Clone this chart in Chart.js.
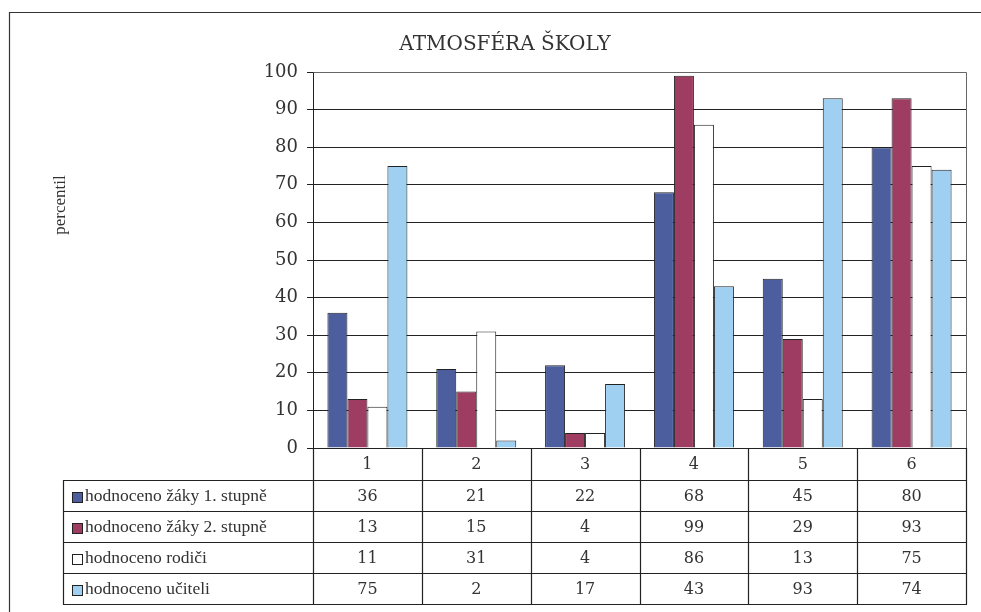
<!DOCTYPE html>
<html>
<head>
<meta charset="utf-8">
<script src="https://cdn.jsdelivr.net/npm/chart.js@4.4.1/dist/chart.umd.min.js"></script>
<style>
  html, body { margin: 0; padding: 0; background: #fff; }
  #wrap { width: 981px; height: 612px; position: relative; }
</style>
</head>
<body>
<div id="wrap"><canvas id="c"></canvas></div>
<script>
const chartTitle = 'ATMOSFÉRA ŠKOLY';
const yAxisTitle = 'percentil';
const categories = ['1', '2', '3', '4', '5', '6'];
const seriesNames = ['hodnoceno žáky 1. stupně', 'hodnoceno žáky 2. stupně', 'hodnoceno rodiči', 'hodnoceno učiteli'];
const zaky1 = [36, 21, 22, 68, 45, 80];
const zaky2 = [13, 15, 4, 99, 29, 93];
const rodici = [11, 31, 4, 86, 13, 75];
const ucitele = [75, 2, 17, 43, 93, 74];
const seriesColors = ['#4c5e9e', '#9e3c62', '#ffffff', '#9fd0f2'];
const yMin = 0, yMax = 100, yStep = 10;

const SERIF = "'Liberation Serif', serif";
const WIDE = "'DejaVu Serif', serif";
const seriesValues = [zaky1, zaky2, rodici, ucitele];

const tablePlugin = {
  id: 'tablePlugin',
  beforeDraw(chart) {
    const ctx = chart.ctx;
    ctx.save();
    ctx.fillStyle = '#fff';
    ctx.fillRect(0, 0, chart.width, chart.height);
    ctx.strokeStyle = '#333';
    ctx.lineWidth = 1.2;
    ctx.beginPath();
    ctx.moveTo(9.5, chart.height);
    ctx.lineTo(9.5, 12.5);
    ctx.lineTo(chart.width, 12.5);
    ctx.stroke();
    ctx.restore();
  },
  afterDraw(chart) {
    const ctx = chart.ctx;
    const { left, right, top, bottom } = chart.chartArea;
    const x = chart.scales.x;
    ctx.save();
    ctx.strokeStyle = '#666';
    ctx.lineWidth = 1;
    ctx.beginPath();
    ctx.moveTo(Math.round(left) + 0.5, Math.round(top) + 0.5);
    ctx.lineTo(Math.round(right) + 0.5, Math.round(top) + 0.5);
    ctx.lineTo(Math.round(right) + 0.5, Math.round(bottom) + 0.5);
    ctx.stroke();

    const bounds = [left];
    for (let i = 0; i < categories.length - 1; i++) {
      bounds.push((x.getPixelForValue(i) + x.getPixelForValue(i + 1)) / 2);
    }
    bounds.push(right);

    const headerBottom = 480;
    const rowH = 31;
    const tableLeft = 63;
    const rowsY = [headerBottom];
    for (let r = 0; r < seriesNames.length; r++) rowsY.push(headerBottom + rowH * (r + 1));
    const tableBottom = rowsY[rowsY.length - 1];

    ctx.strokeStyle = '#222';
    ctx.lineWidth = 1.2;
    ctx.beginPath();
    bounds.forEach(b => {
      const bx = Math.round(b) + 0.5;
      ctx.moveTo(bx, Math.round(bottom));
      ctx.lineTo(bx, tableBottom + 0.5);
    });
    ctx.moveTo(tableLeft + 0.5, headerBottom + 0.5);
    ctx.lineTo(tableLeft + 0.5, tableBottom + 0.5);
    rowsY.forEach(ry => {
      ctx.moveTo(tableLeft, ry + 0.5);
      ctx.lineTo(Math.round(right) + 1, ry + 0.5);
    });
    ctx.stroke();

    ctx.fillStyle = '#333';
    ctx.font = '16px ' + WIDE;
    ctx.textAlign = 'center';
    ctx.textBaseline = 'middle';
    categories.forEach((c, i) => {
      ctx.fillText(c, x.getPixelForValue(i), (bottom + headerBottom) / 2 + 1);
    });

    seriesNames.forEach((name, r) => {
      const cy = headerBottom + rowH * r + rowH / 2 + 1;
      ctx.fillStyle = seriesColors[r];
      ctx.fillRect(72, Math.round(cy - 5), 10, 10);
      ctx.strokeStyle = '#222';
      ctx.lineWidth = 1;
      ctx.strokeRect(72.5, Math.round(cy - 5) + 0.5, 10, 10);
      ctx.fillStyle = '#333';
      ctx.textAlign = 'left';
      ctx.font = '17.5px ' + SERIF;
      ctx.fillText(name, 85, cy);
      ctx.textAlign = 'center';
      ctx.font = '16px ' + WIDE;
      seriesValues[r].forEach((v, i) => {
        ctx.fillText(String(v), x.getPixelForValue(i), cy);
      });
    });

    ctx.save();
    ctx.translate(61, 205);
    ctx.rotate(-Math.PI / 2);
    ctx.font = '17px ' + SERIF;
    ctx.fillStyle = '#333';
    ctx.textAlign = 'center';
    ctx.textBaseline = 'middle';
    ctx.fillText(yAxisTitle, 0, 0);
    ctx.restore();

    ctx.restore();
  }
};

new Chart(document.getElementById('c'), {
  type: 'bar',
  data: {
    labels: categories,
    datasets: seriesNames.map((n, i) => ({
      label: n,
      data: seriesValues[i],
      backgroundColor: seriesColors[i],
      borderColor: '#222',
      borderWidth: 1,
      borderSkipped: 'bottom',
      categoryPercentage: 0.735,
      barPercentage: 1.0
    }))
  },
  options: {
    responsive: true,
    maintainAspectRatio: false,
    animation: false,
    devicePixelRatio: 1,
    layout: { padding: { top: 0, right: 15, bottom: 164, left: 44 } },
    plugins: {
      legend: { display: false },
      tooltip: { enabled: false },
      title: {
        display: true,
        text: chartTitle,
        color: '#333',
        font: { family: WIDE, size: 20, weight: 'normal', lineHeight: 1.2 },
        padding: { top: 33, bottom: 15 }
      }
    },
    scales: {
      x: { display: false },
      y: {
        min: yMin,
        max: yMax,
        afterFit(scale) { scale.width = 269; },
        ticks: {
          stepSize: yStep,
          padding: 9,
          color: '#333',
          font: { family: WIDE, size: 18 }
        },
        grid: { color: '#222', lineWidth: 1, tickLength: 6, drawTicks: true },
        border: { display: true, color: '#222', width: 1 }
      }
    }
  },
  plugins: [tablePlugin]
});
</script>
</body>
</html>
